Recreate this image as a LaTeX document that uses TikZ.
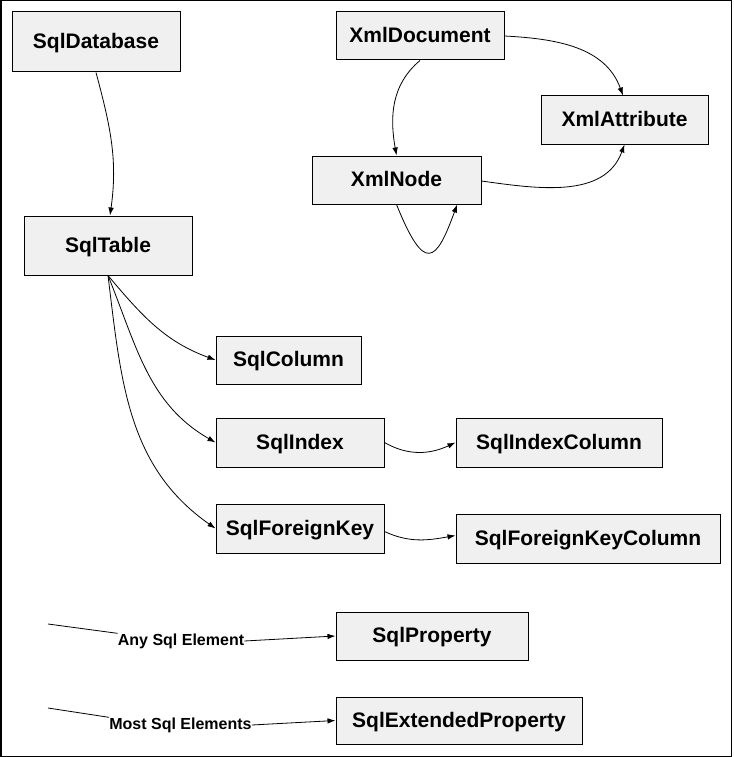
\documentclass[tikz,border=0pt]{standalone}
\usepackage{xcolor}
\usepackage{fontspec}
\setmainfont{Liberation Sans}
\usepackage{tikz}
\usetikzlibrary{arrows.meta, positioning, calc}
\definecolor{boxgray}{RGB}{240,240,240}
\tikzstyle{entity} = [rectangle, minimum width=168pt, minimum height=48pt, text centered, text height=15pt, text depth=2pt, draw=black, line width=1pt, fill=boxgray, font=\bfseries\fontsize{21}{25}\selectfont]
\tikzstyle{elemlabel} = [inner sep=0pt, font=\bfseries\fontsize{16}{19}\selectfont]
\tikzstyle{arrow} = [line width=0.8pt, -{Latex[length=8pt,width=5.5pt]}]

\begin{document}
\begin{tikzpicture}[x=1pt, y=1pt, node distance=86pt]
    \useasboundingbox (0,0) rectangle (733,-757);
    \draw [line width=1.5pt] (0.75,-0.75) rectangle (731.25,-756.25);

    % Sql tree
    \node (sqldb) [entity, minimum height=60pt] at (96,-42) {SqlDatabase};
    \node (sqltable) [entity, minimum height=59pt, below of=sqldb, xshift=12pt, yshift=-117.5pt] {SqlTable};
    \node (sqlcolumn) [entity, minimum width=145pt, right of=sqltable, xshift=94.5pt, yshift=-114.5pt] {SqlColumn};
    \node (sqlindex) [entity, minimum height=49pt, below of=sqlcolumn, xshift=11.5pt, yshift=3.5pt] {SqlIndex};
    \node (sqlfk) [entity, minimum height=49pt, below of=sqlindex] {SqlForeignKey};
    \node (sqlindexcol) [entity, minimum width=206pt, minimum height=49pt, right of=sqlindex, xshift=173pt] {SqlIndexColumn};
    \node (sqlfkcol) [entity, minimum width=264pt, minimum height=49pt, right of=sqlfk, xshift=202pt, yshift=-10pt] {SqlForeignKeyColumn};

    % Properties
    \node (sqlprop) [entity, minimum width=192pt, below of=sqlfk, xshift=132pt, yshift=-21.5pt] {SqlProperty};
    \node (sqlext) [entity, minimum width=246pt, minimum height=47pt, below of=sqlprop, xshift=27pt, yshift=1.5pt] {SqlExtendedProperty};
    \node (anylbl) [elemlabel, left of=sqlprop, xshift=-165pt, yshift=-5pt] {Any Sql Element};
    \node (mostlbl) [elemlabel, left of=sqlext, xshift=-192.5pt, yshift=-4.5pt] {Most Sql Elements};
    \coordinate (anystart) at (48,-624);
    \coordinate (moststart) at (48,-708);

    % Xml tree
    \node (xmldoc) [entity, right of=sqldb, xshift=238pt, yshift=6pt] {XmlDocument};
    \node (xmlnode) [entity, minimum width=169pt, below of=xmldoc, xshift=-23.5pt, yshift=-58pt] {XmlNode};
    \node (xmlattr) [entity, minimum width=167pt, right of=xmlnode, xshift=142pt, yshift=60pt] {XmlAttribute};

    % Arrows
    \draw [arrow] (sqldb.south) to[out=-75, in=82] ([xshift=2pt]sqltable.north);
    \draw [arrow] (sqltable.south) to[out=-50, in=160] (sqlcolumn.west);
    \draw [arrow] (sqltable.south) to[out=-68, in=150] (sqlindex.west);
    \draw [arrow] (sqltable.south) to[out=-83, in=145] (sqlfk.west);
    \draw [arrow] (sqlindex.east) to[out=-30, in=-155] (sqlindexcol.west);
    \draw [arrow] ([yshift=-3pt]sqlfk.east) to[out=-25, in=-170] ([yshift=3pt]sqlfkcol.west);
    \draw [arrow] (xmldoc.east) to[out=-3, in=110] ([xshift=-1.5pt]xmlattr.north);
    \draw [arrow] (xmldoc.south) to[out=-140, in=100] (xmlnode.north);
    \draw [arrow] ([yshift=-1pt]xmlnode.east) to[out=-8, in=-110] (xmlattr.south);
    \draw [arrow] (xmlnode.south) .. controls +(-68:75pt) and +(-110:62pt) .. (xmlnode.-22);
    \draw [line width=0.8pt] (anystart) -- (anylbl.north west);
    \draw [arrow] (anylbl.east) -- (sqlprop.west);
    \draw [line width=0.8pt] (moststart) -- (mostlbl.north west);
    \draw [arrow] (mostlbl.east) -- (sqlext.west);
\end{tikzpicture}
\end{document}
